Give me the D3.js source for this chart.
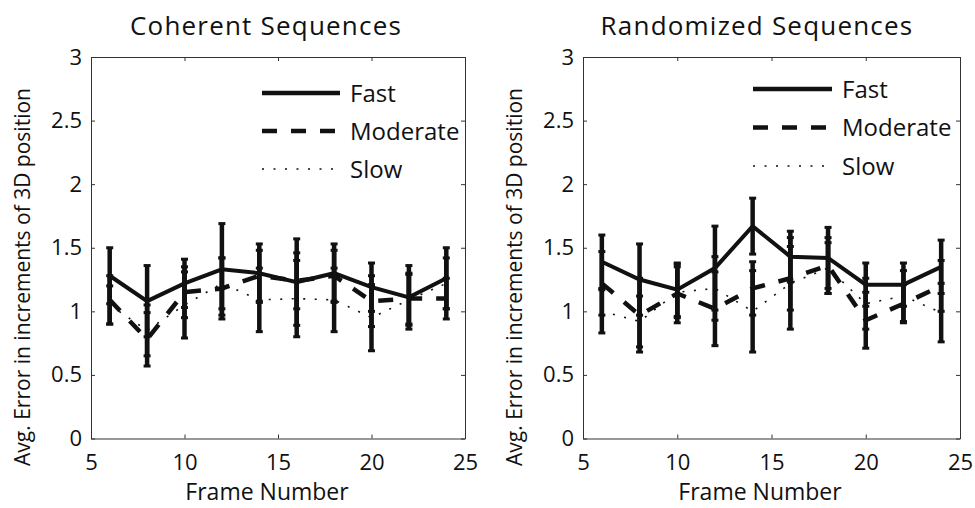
<!DOCTYPE html>
<html>
<head>
<meta charset="utf-8">
<script src="https://cdn.jsdelivr.net/npm/d3@7"></script>
<style>
  body { margin: 0; background: #fff; }
  text { font-family: "Open Sans", "DejaVu Sans", sans-serif; fill: #111; }
</style>
</head>
<body>
<div id="chart-area"></div>
<script>
//frame numbers on the x axis
var frames = [6, 8, 10, 12, 14, 16, 18, 20, 22, 24];

//tick labels
var xTicks = [5, 10, 15, 20, 25];
var yTicks = [0, 0.5, 1, 1.5, 2, 2.5, 3];

//series names
var speeds = ["Fast", "Moderate", "Slow"];

//coherent sequences (mean and error)
var cohFast = [1.28, 1.08, 1.22, 1.33, 1.30, 1.23, 1.30, 1.19, 1.11, 1.26];
var cohFastErr = [0.22, 0.28, 0.19, 0.36, 0.23, 0.34, 0.23, 0.19, 0.25, 0.24];
var cohModerate = [1.09, 0.78, 1.15, 1.18, 1.28, 1.24, 1.28, 1.08, 1.10, 1.10];
var cohModerateErr = [0.19, 0.21, 0.20, 0.24, 0.20, 0.22, 0.20, 0.20, 0.20, 0.16];
var cohSlow = [1.05, 0.85, 1.05, 1.22, 1.09, 1.10, 1.09, 0.95, 1.09, 1.22];
var cohSlowErr = [0.15, 0.20, 0.26, 0.20, 0.25, 0.30, 0.25, 0.26, 0.20, 0.20];

//randomized sequences (mean and error)
var rndFast = [1.39, 1.25, 1.17, 1.34, 1.67, 1.43, 1.42, 1.21, 1.21, 1.35];
var rndFastErr = [0.21, 0.28, 0.21, 0.33, 0.22, 0.20, 0.24, 0.17, 0.17, 0.21];
var rndModerate = [1.22, 0.97, 1.14, 1.02, 1.18, 1.26, 1.36, 0.93, 1.06, 1.20];
var rndModerateErr = [0.25, 0.29, 0.23, 0.29, 0.21, 0.25, 0.22, 0.22, 0.15, 0.20];
var rndSlow = [1.00, 0.92, 1.15, 1.18, 1.00, 1.22, 1.34, 1.06, 1.12, 0.99];
var rndSlowErr = [0.17, 0.20, 0.20, 0.25, 0.32, 0.36, 0.20, 0.20, 0.20, 0.23];

//line style per speed
var styles = {
	Fast: {width: 4, dash: null},
	Moderate: {width: 4.5, dash: "15,14"},
	Slow: {width: 1.6, dash: "2,9.5"}
};

var svg = d3.select("#chart-area")
	.append("svg")
		.attr("width", 975)
		.attr("height", 508);

var panels = [
	{
		title: "Coherent Sequences", left: 91, right: 465, top: 57, bottom: 438.5,
		titleX: 266, xLabelX: 267, yLabelX: 30,
		legend: {x0: 262, x1: 340, y: 93, step: 38},
		series: [
			{name: "Fast", v: cohFast, e: cohFastErr},
			{name: "Moderate", v: cohModerate, e: cohModerateErr},
			{name: "Slow", v: cohSlow, e: cohSlowErr}
		]
	},
	{
		title: "Randomized Sequences", left: 583, right: 960, top: 57, bottom: 438.5,
		titleX: 757, xLabelX: 760, yLabelX: 522,
		legend: {x0: 753, x1: 832, y: 89, step: 38.5},
		series: [
			{name: "Fast", v: rndFast, e: rndFastErr},
			{name: "Moderate", v: rndModerate, e: rndModerateErr},
			{name: "Slow", v: rndSlow, e: rndSlowErr}
		]
	}
];

panels.forEach(drawPanel);

function drawPanel(p) {
	var x = d3.scaleLinear().domain([5, 25]).range([p.left, p.right]);
	var y = d3.scaleLinear().domain([0, 3]).range([p.bottom, p.top]);

	var g = svg.append("g");

	//axes, MATLAB style ticks pointing inwards
	g.append("g")
		.attr("transform", "translate(" + p.left + ",0)")
		.call(d3.axisLeft(y).tickValues(yTicks).tickFormat(d3.format("")).tickSize(-4).tickSizeOuter(0).tickPadding(9));
	g.append("g")
		.attr("transform", "translate(0," + p.bottom + ")")
		.call(d3.axisBottom(x).tickValues(xTicks).tickSize(-4).tickSizeOuter(0).tickPadding(16));
	g.append("g")
		.attr("transform", "translate(" + p.right + ",0)")
		.call(d3.axisRight(y).tickValues(yTicks).tickFormat("").tickSize(-4).tickSizeOuter(0));
	g.append("g")
		.attr("transform", "translate(0," + p.top + ")")
		.call(d3.axisTop(x).tickValues(xTicks).tickFormat("").tickSize(-4).tickSizeOuter(0));
	g.selectAll(".domain, .tick line").attr("stroke", "#333").attr("stroke-width", 1);
	g.selectAll(".tick text").attr("font-size", 22).attr("fill", "#111")
		.style("font-family", "'Open Sans', sans-serif");

	//lines
	var line = d3.line()
		.x(function(d, i) { return x(frames[i]); })
		.y(function(d) { return y(d); });

	p.series.slice().reverse().forEach(function(s) {
		var st = styles[s.name];
		g.append("path")
			.datum(s.v)
			.attr("fill", "none")
			.attr("stroke", "#111")
			.attr("stroke-width", st.width)
			.attr("stroke-dasharray", st.dash)
			.attr("d", line);
	});

	//error bars for every series (they overlap)
	p.series.forEach(function(s) {
		var bars = g.append("g").selectAll("g")
			.data(s.v)
			.enter().append("g");
		bars.append("line")
			.attr("x1", function(d, i) { return x(frames[i]); })
			.attr("x2", function(d, i) { return x(frames[i]); })
			.attr("y1", function(d, i) { return y(d - s.e[i]); })
			.attr("y2", function(d, i) { return y(d + s.e[i]); })
			.attr("stroke", "#111")
			.attr("stroke-width", 4.5);
		[-1, 1].forEach(function(sign) {
			bars.append("line")
				.attr("x1", function(d, i) { return x(frames[i]) - 3.5; })
				.attr("x2", function(d, i) { return x(frames[i]) + 3.5; })
				.attr("y1", function(d, i) { return y(d + sign * s.e[i]); })
				.attr("y2", function(d, i) { return y(d + sign * s.e[i]); })
				.attr("stroke", "#111")
				.attr("stroke-width", 3);
		});
	});

	//legend
	speeds.forEach(function(name, i) {
		var st = styles[name];
		var ly = p.legend.y + i * p.legend.step;
		g.append("line")
			.attr("x1", p.legend.x0).attr("x2", p.legend.x1)
			.attr("y1", ly).attr("y2", ly)
			.attr("stroke", "#111")
			.attr("stroke-width", name == "Slow" ? 1.6 : 4.5)
			.attr("stroke-dasharray", st.dash);
		g.append("text")
			.attr("x", p.legend.x1 + 10)
			.attr("y", ly)
			.attr("dy", "0.36em")
			.attr("font-size", 24)
			.text(name);
	});

	//labels
	g.append("text")
		.attr("x", p.titleX)
		.attr("y", 35)
		.attr("text-anchor", "middle")
		.attr("font-size", 26)
		.attr("letter-spacing", 1.2)
		.text(p.title);
	g.append("text")
		.attr("x", p.xLabelX)
		.attr("y", 500)
		.attr("text-anchor", "middle")
		.attr("font-size", 23)
		.text("Frame Number");
	g.append("text")
		.attr("transform", "rotate(-90)")
		.attr("x", -277)
		.attr("y", p.yLabelX)
		.attr("text-anchor", "middle")
		.attr("font-size", 21)
		.text("Avg. Error in increments of 3D position");
}
</script>
</body>
</html>
